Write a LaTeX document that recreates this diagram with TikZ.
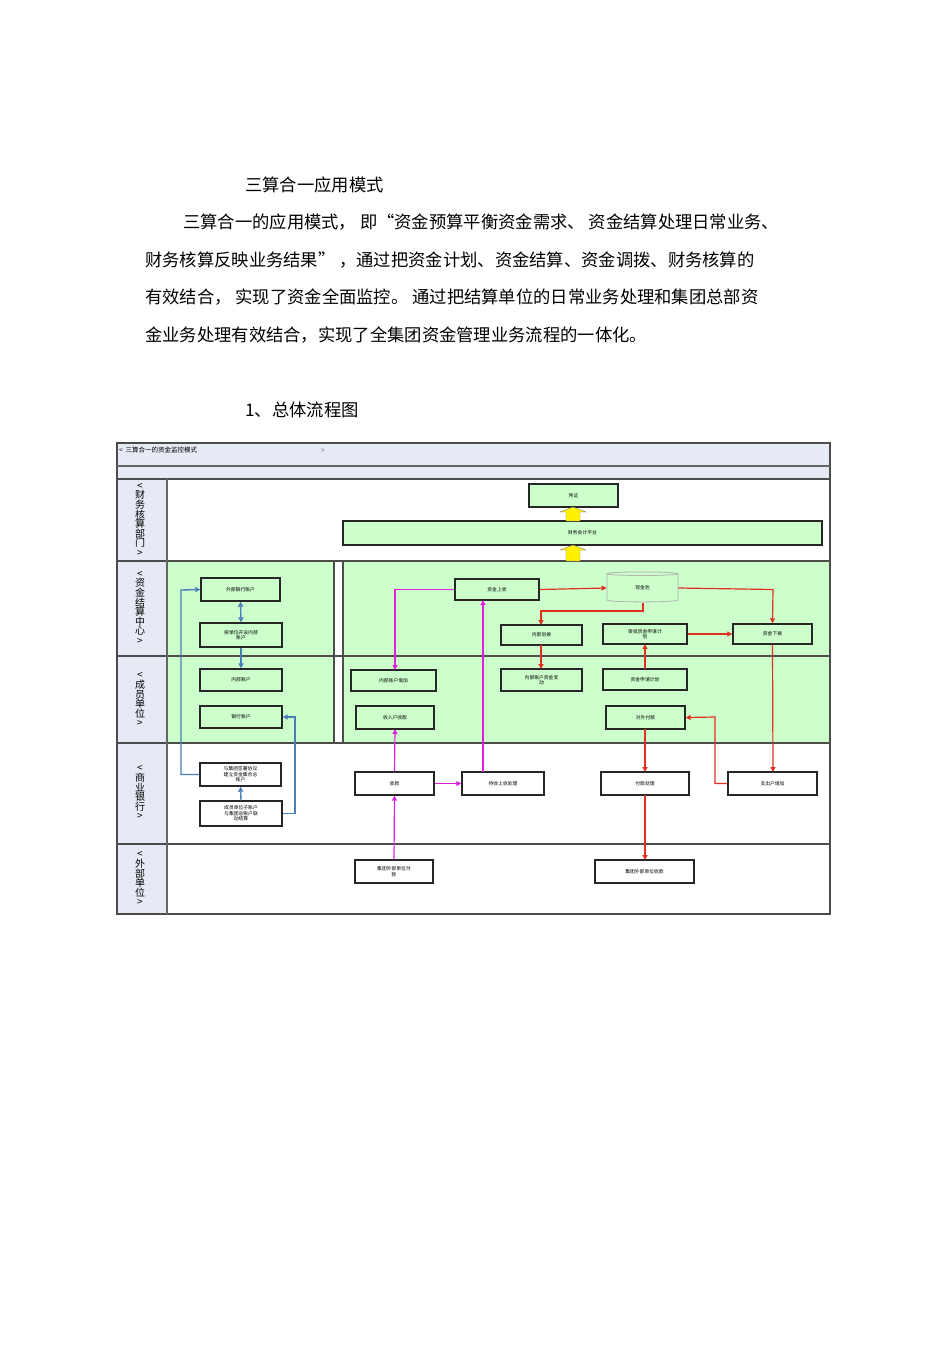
\documentclass[tikz,border=0pt]{standalone}
\usepackage{fontspec}
\setmainfont{Liberation Serif}
\newfontfamily\cjk{Noto Sans CJK SC}
\usetikzlibrary{arrows.meta,shapes.geometric}
\definecolor{lg}{HTML}{CCFFCC}
\definecolor{lanebg}{HTML}{E6EAF4}
\definecolor{bl}{HTML}{4A7EBB}
\definecolor{mg}{HTML}{E020E0}
\definecolor{rd}{HTML}{E03020}
\tikzset{
 bx/.style={draw=black!85, line width=1.4pt, fill=lg, font=\cjk\fontsize{4.8}{5.5}\selectfont, inner sep=1pt, align=center},
 wb/.style={bx, fill=white},
 para/.style={anchor=west, font=\cjk\fontsize{17.3}{18}\selectfont, inner sep=0pt},
 lanelab/.style={font=\cjk\fontsize{10}{9.6}\selectfont, align=center, inner sep=0pt},
 bln/.style={draw=bl, line width=1.4pt, -{Triangle[length=5pt,width=5pt]}},
 mln/.style={draw=mg, line width=1.2pt, -{Triangle[length=5pt,width=5pt]}},
 rln/.style={draw=rd, line width=1.2pt, -{Triangle[length=5pt,width=5pt]}},
}
\newcommand{\bxat}[6]{\node[#1, minimum width=#4-#2, minimum height=#5-#3] (#6) at ({(#2+#4)/2},{(#3+#5)/2})}
\begin{document}
\begin{tikzpicture}[x=1pt,y=-1pt]
\useasboundingbox (0,0) rectangle (950,1345);
% text
\node[para] (t0) at (245,185) {三算合一应用模式};
\node[para] (t1) at (183,222) {三算合一的应用模式，\ 即“资金预算平衡资金需求、\ 资金结算处理日常业务、};
\node[para] (t2) at (145,260) {财务核算反映业务结果”\ ，通过把资金计划、资金结算、资金调拨、财务核算的};
\node[para] (t3) at (145,297) {有效结合，\ 实现了资金全面监控。\ 通过把结算单位的日常业务处理和集团总部资};
\node[para] (t4) at (145,335) {金业务处理有效结合，实现了全集团资金管理业务流程的一体化。};
\node[para] (t5) at (245,410) {1、总体流程图};
% frame
\fill[lanebg] (117,443) rectangle (830,479);
\fill[lanebg] (117,479) rectangle (167,914);
\fill[lg] (167,561) rectangle (334,743);
\fill[lg] (343,561) rectangle (830,743);
\draw[black!70, line width=1.4pt] (117,443) rectangle (830,914);
\draw[black!60, line width=1.2pt] (117,466) -- (830,466);
\foreach \yy in {479,561,656,743,844} \draw[black!70, line width=1.4pt] (117,\yy) -- (830,\yy);
\draw[black!60, line width=1.4pt] (167,479) -- (167,914);
\draw[black!70, line width=1.4pt] (334,561) -- (334,743) (343,561) -- (343,743);
\node[anchor=west, font=\cjk\fontsize{6.5}{7}\selectfont, inner sep=0pt] (hd) at (119,450) {<\ \ 三算合一的资金监控模式};
\node[font=\fontsize{6.5}{7}\selectfont, inner sep=0pt] (hd2) at (323,451) {>};
% lane labels
\node[lanelab] (l1) at (140,520) {<\\财\\务\\核\\算\\部\\门\\>};
\node[lanelab] (l2) at (140,608) {<\\资\\金\\结\\算\\中\\心\\>};
\node[lanelab] (l3) at (140,700) {<\\成\\员\\单\\位\\>};
\node[lanelab] (l4) at (140,793) {<\\商\\业\\银\\行\\>};
\node[lanelab] (l5) at (140,879) {<\\外\\部\\单\\位\\>};
% boxes
\bxat{bx}{529}{484}{618}{507}{pz} {凭证};
\bxat{bx}{343}{521}{822}{545}{cw} {财务会计平台};
\bxat{bx}{201}{578}{280}{601}{wbyh} {外部银行账户};
\bxat{bx}{200}{623}{282}{647}{ksnb} {按单位开设内部\\账户};
\bxat{bx}{200}{669}{282}{691}{nbzh} {内部账户};
\bxat{bx}{200}{706}{282}{728}{yhzh} {银行账户};
\bxat{wb}{200}{763}{281}{786}{qsxy} {与集团签署协议\\建立资金集合总\\账户};
\bxat{wb}{200}{801}{282}{826}{zzh} {成员单位子账户\\与集团总账户联\\动结算};
\bxat{bx}{455}{579}{539}{600}{zjss} {资金上收};
\node[cylinder, shape border rotate=90, aspect=0.25, draw=black!30, line width=0.8pt, fill=lg, minimum width=71pt, minimum height=30pt, font=\cjk\fontsize{4.8}{5.5}\selectfont, inner sep=0pt] (xjc) at (642.5,588) {现金池};
\bxat{bx}{501}{625}{582}{645}{nbhb} {内部划拨};
\bxat{bx}{603}{624}{687}{644}{sp} {审批资金申请计\\划};
\bxat{bx}{733}{624}{812}{644}{zjxb} {资金下拨};
\bxat{bx}{351}{670}{436}{691}{nbzj} {内部账户增加};
\bxat{bx}{501}{669}{582}{691}{nbbd} {内部账户资金变\\动};
\bxat{bx}{603}{669}{687}{690}{sqjh} {资金申请计划};
\bxat{bx}{356}{706}{434}{729}{srsk} {收入户收款};
\bxat{bx}{606}{706}{685}{729}{dwfk} {对外付款};
\bxat{wb}{355}{772}{434}{795}{sk} {收款};
\bxat{wb}{462}{772}{544}{795}{dsss} {待收上收处理};
\bxat{wb}{601}{772}{689}{795}{fkcl} {付款处理};
\bxat{wb}{728}{772}{817}{795}{zchz} {支出户增加};
\bxat{wb}{355}{860}{433}{883}{wfk} {集团外部单位付\\款};
\bxat{wb}{595}{860}{694}{883}{wsk} {集团外部单位收款};
% yellow arrows
\foreach \ya/\yb in {507/521,545/561}{
 \fill[yellow, draw=black!50, line width=0.4pt] (566,\yb) -- (566,{\ya+5}) -- (560,{\ya+5}) -- (573,\ya) -- (586,{\ya+5}) -- (580,{\ya+5}) -- (580,\yb) -- cycle;
}
% blue
\draw[bln, {Triangle[length=5pt,width=5pt]}-{Triangle[length=5pt,width=5pt]}] (wbyh.south) -- (ksnb.north);
\draw[bln] (ksnb.south) -- (nbzh.north);
\draw[bln] (qsxy.west) -- (181,774.5) -- (181,590) -- (wbyh.west);
\draw[bln] (zzh.north) -- (qsxy.south);
\draw[bln] (zzh.east) -- (295,813.5) -- (295,717) -- (yhzh.east);
% magenta
\draw[mln] (zjss.west) -- (395,589.5) -- (395,670);
\draw[mln] (sk.north) -- (395,729);
\draw[mln] (wfk.north) -- (sk.south);
\draw[mln] (sk.east) -- (dsss.west);
\draw[mln] (483,772) -- (483,600);
% red
\draw[rln] (zjss.east) -- (xjc.west);
\draw[rln] (643,603) -- (643,611) -- (541,611) -- (541,625);
\draw[rln] (xjc.east) -- (773,589.5) -- (zjxb.north);
\draw[rln] (541,645) -- (541,669);
\draw[rln] (645,669) -- (645,644);
\draw[rln] (sp.east) -- (zjxb.west);
\draw[rln] (zjxb.south) -- (773,772);
\draw[rln] (645,729) -- (645,772);
\draw[rln] (zchz.west) -- (715,783.5) -- (715,717) -- (dwfk.east);
\draw[rln] (645,795) -- (645,860);
\end{tikzpicture}
\end{document}
